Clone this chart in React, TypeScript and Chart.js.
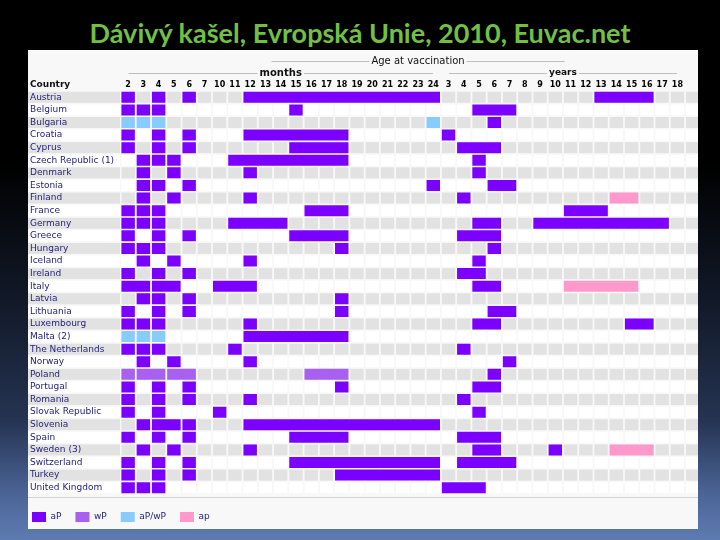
import React, { useEffect, useRef } from 'react';
import { Chart, registerables } from 'chart.js';
Chart.register(...registerables);

const title = 'Dávivý kašel, Evropská Unie, 2010, Euvac.net';

const countries = [
  'Austria', 'Belgium', 'Bulgaria', 'Croatia', 'Cyprus', 'Czech Republic (1)', 'Denmark', 'Estonia',
  'Finland', 'France', 'Germany', 'Greece', 'Hungary', 'Iceland', 'Ireland', 'Italy', 'Latvia',
  'Lithuania', 'Luxembourg', 'Malta (2)', 'The Netherlands', 'Norway', 'Poland', 'Portugal', 'Romania',
  'Slovak Republic', 'Slovenia', 'Spain', 'Sweden (3)', 'Switzerland', 'Turkey', 'United Kingdom',
];

const monthCols = ['2', '3', '4', '5', '6', '7', '10', '11', '12', '13', '14', '15', '16', '17', '18', '19', '20', '21', '22', '23', '24'];
const yearCols = ['3', '4', '5', '6', '7', '8', '9', '10', '11', '12', '13', '14', '15', '16', '17', '18'];
const colKeys = [...monthCols.map((m) => 'm' + m), ...yearCols.map((y) => 'y' + y), 'extra'];
const colLabels = [...monthCols, ...yearCols, ''];

// aP schedule, one list of spans per country (same order as countries)
const aPSpans: string[][] = [
  ['m2', 'm4', 'm6', 'm12-m24', 'y13-y16'],
  ['m2', 'm3', 'm4', 'm15', 'y5-y7'],
  ['y6'],
  ['m2', 'm4', 'm6', 'm12-m18', 'y3'],
  ['m2', 'm4', 'm6', 'm15-m18', 'y4-y6'],
  ['m3', 'm4', 'm5', 'm11-m18', 'y5'],
  ['m3', 'm5', 'm12', 'y5'],
  ['m3', 'm4', 'm6', 'm24', 'y6-y7'],
  ['m3', 'm5', 'm12', 'y4'],
  ['m2', 'm3', 'm4', 'm16-m18', 'y11-y13'],
  ['m2', 'm3', 'm4', 'm11-m14', 'y5-y6', 'y9-y17'],
  ['m2', 'm4', 'm6', 'm15-m18', 'y4-y6'],
  ['m2', 'm3', 'm4', 'm18', 'y6'],
  ['m3', 'm5', 'm12', 'y5'],
  ['m2', 'm4', 'm6', 'y4-y5'],
  ['m2-m3', 'm4-m5', 'm10-m12', 'y5-y6'],
  ['m3', 'm4', 'm6', 'm18'],
  ['m2', 'm4', 'm6', 'm18', 'y6-y7'],
  ['m2', 'm3', 'm4', 'm12', 'y5-y6', 'y15-y16'],
  ['m12-m18'],
  ['m2', 'm3', 'm4', 'm11', 'y4'],
  ['m3', 'm5', 'm12', 'y7'],
  ['y6'],
  ['m2', 'm4', 'm6', 'm18', 'y5-y6'],
  ['m2', 'm4', 'm6', 'm12', 'y4'],
  ['m2', 'm4', 'm10', 'y5'],
  ['m3', 'm4-m5', 'm6', 'm12-m24'],
  ['m2', 'm4', 'm6', 'm15-m18', 'y4-y6'],
  ['m3', 'm5', 'm12', 'y5-y6', 'y10'],
  ['m2', 'm4', 'm6', 'm15-m24', 'y4-y7'],
  ['m2', 'm4', 'm6', 'm18-m24'],
  ['m2', 'm3', 'm4', 'y3-y5'],
];

// sparse schedules: [country, spans]
const wPSpans: [string, string[]][] = [
  ['Poland', ['m2', 'm3-m4', 'm5-m6', 'm16-m18']],
];
const aPwPSpans: [string, string[]][] = [
  ['Bulgaria', ['m2', 'm3', 'm4', 'm24']],
  ['Malta (2)', ['m2', 'm3', 'm4']],
];
const apSpans: [string, string[]][] = [
  ['Finland', ['y14-y15']],
  ['Italy', ['y11-y15']],
  ['Sweden (3)', ['y14-y16']],
];

const legendLabels = ['aP', 'wP', 'aP/wP', 'ap'];
const colors = ['#7B00FF', '#A860F0', '#88CCFF', '#FF99CC'];

const INSET = 0.06;
const NAVY = '#23237A';

function expand(sparse: [string, string[]][]): string[][] {
  return countries.map((c) => {
    const f = sparse.find((s) => s[0] === c);
    return f ? f[1] : [];
  });
}

function spanRange(s: string): [number, number] {
  const [a, b] = s.split('-');
  return [colKeys.indexOf(a), colKeys.indexOf(b ?? a)];
}

function buildDatasets(label: string, color: string, perCountry: string[][]) {
  const n = Math.max(0, ...perCountry.map((s) => s.length));
  const out: any[] = [];
  for (let k = 0; k < n; k++) {
    out.push({
      label,
      backgroundColor: color,
      borderWidth: 0,
      grouped: false,
      barPercentage: 0.873,
      categoryPercentage: 1,
      data: perCountry.map((s) => {
        if (!s[k]) return null;
        const [a, b] = spanRange(s[k]);
        return [a - 0.5 + INSET, b + 0.5 - INSET];
      }),
    });
  }
  return out;
}

const gridPlugin = {
  id: 'gridPlugin',
  afterLayout(chart: any) {
    const lg = chart.legend;
    if (lg) {
      lg.left -= 12;
      lg.right -= 12;
    }
  },
  beforeDraw(chart: any) {
    const { ctx, chartArea, scales } = chart;
    const x = scales.x;
    const y = scales.y;
    const h = 11;
    ctx.save();
    const left0 = x.getPixelForValue(-0.5);
    for (let i = 0; i < countries.length; i++) {
      const yc = y.getPixelForValue(i);
      const top = yc - h / 2;
      const gray = i % 2 === 0;
      ctx.fillStyle = gray ? '#E2E2E2' : '#FFFFFF';
      ctx.fillRect(10, top, left0 - 10 - 0.5, h);
      for (let c = 0; c < colKeys.length; c++) {
        const x0 = x.getPixelForValue(c - 0.5 + INSET);
        const x1 = Math.min(x.getPixelForValue(c + 0.5 - INSET), chartArea.right);
        if (x1 > x0) ctx.fillRect(x0, top, x1 - x0, h);
      }
    }
    // separator under the grid
    ctx.strokeStyle = '#D4D4D4';
    ctx.lineWidth = 1;
    ctx.beginPath();
    ctx.moveTo(10, Math.round(chartArea.bottom + 3) + 0.5);
    ctx.lineTo(chartArea.right, Math.round(chartArea.bottom + 3) + 0.5);
    ctx.stroke();
    ctx.restore();
  },
  afterDraw(chart: any) {
    const { ctx, scales } = chart;
    const x = scales.x;
    ctx.save();
    ctx.textBaseline = 'middle';
    ctx.fillStyle = '#111111';
    ctx.font = 'bold 9px "DejaVu Sans"';
    ctx.textAlign = 'left';
    ctx.fillText('Country', 12, 35);

    const lineText = (text: string, font: string, cx: number, cy: number, l: number, r: number) => {
      ctx.font = font;
      ctx.textAlign = 'center';
      ctx.fillStyle = '#111111';
      ctx.fillText(text, cx, cy);
      const w = ctx.measureText(text).width;
      ctx.strokeStyle = '#BDBDBD';
      ctx.lineWidth = 1;
      const yy = Math.round(cy) + 0.5;
      ctx.beginPath();
      ctx.moveTo(l, yy);
      ctx.lineTo(cx - w / 2 - 2, yy);
      ctx.moveTo(cx + w / 2 + 2, yy);
      ctx.lineTo(r, yy);
      ctx.stroke();
    };
    const mL = x.getPixelForValue(-0.5);
    const mR = x.getPixelForValue(monthCols.length - 0.5);
    const yR = x.getPixelForValue(monthCols.length + yearCols.length - 0.5);
    lineText('Age at vaccination', '10px "DejaVu Sans"', x.getPixelForValue(19), 11, x.getPixelForValue(9.4), x.getPixelForValue(28.6));
    lineText('months', 'bold 10px "DejaVu Sans"', (mL + mR) / 2, 23, mL + 8, mR - 8);
    lineText('years', 'bold 9px "DejaVu Sans"', (mR + yR) / 2, 23, mR + 8, yR - 8);
    ctx.restore();
  },
};

export default function App() {
  const ref = useRef<HTMLCanvasElement>(null);
  useEffect(() => {
    const canvas = ref.current!;
    const datasets = [
      ...buildDatasets(legendLabels[0], colors[0], aPSpans),
      ...buildDatasets(legendLabels[1], colors[1], expand(wPSpans)),
      ...buildDatasets(legendLabels[2], colors[2], expand(aPwPSpans)),
      ...buildDatasets(legendLabels[3], colors[3], expand(apSpans)),
    ];
    const chart = new Chart(canvas, {
      type: 'bar',
      data: { labels: countries, datasets },
      options: {
        indexAxis: 'y',
        responsive: false,
        animation: false,
        devicePixelRatio: 1,
        layout: { padding: { left: 12, right: 0, top: 0, bottom: 0 } },
        scales: {
          x: {
            type: 'linear',
            position: 'top',
            min: -0.5,
            max: 37.35,
            grid: { display: false, drawTicks: false },
            border: { display: false },
            afterBuildTicks: (s: any) => {
              s.ticks = colLabels.map((_, i) => ({ value: i }));
            },
            afterFit: (s: any) => {
              s.height = 41;
            },
            ticks: {
              autoSkip: false,
              maxRotation: 0,
              minRotation: 0,
              padding: 1,
              color: '#000000',
              font: { family: 'DejaVu Sans', size: 8, weight: 'bold' },
              callback: (v: any) => colLabels[v] ?? '',
            },
          },
          y: {
            type: 'category',
            grid: { display: false, drawTicks: false },
            border: { display: false },
            afterFit: (s: any) => {
              s.width = 90.5;
            },
            ticks: {
              crossAlign: 'far',
              autoSkip: false,
              color: NAVY,
              font: { family: 'DejaVu Sans', size: 9 },
            },
          },
        },
        plugins: {
          legend: {
            position: 'bottom',
            align: 'start',
            title: { display: true, text: '', padding: 0, font: { size: 4, lineHeight: 1 } },
            labels: {
              boxWidth: 14,
              boxHeight: 10,
              padding: 14,
              color: NAVY,
              font: { family: 'DejaVu Sans', size: 9 },
              filter: (item: any, data: any) =>
                data.datasets.findIndex((d: any) => d.label === item.text) === item.datasetIndex,
            },
          },
          tooltip: { enabled: false },
        },
      } as any,
      plugins: [gridPlugin],
    });
    return () => chart.destroy();
  }, []);

  return (
    <div
      style={{
        position: 'fixed',
        left: 0,
        top: 0,
        width: 720,
        height: 540,
        overflow: 'hidden',
        background:
          'linear-gradient(to bottom, #000000 0%, #000000 30%, #111827 55%, #253452 78%, #4d6699 92%, #5d7bb0 100%)',
      }}
    >
      <div
        style={{
          position: 'absolute',
          top: 16.5,
          left: 0,
          width: 720,
          textAlign: 'center',
          fontFamily: 'Lato, "Open Sans", sans-serif',
          fontWeight: 700,
          fontSize: 27,
          lineHeight: '32px',
          color: '#72BF44',
          whiteSpace: 'nowrap',
        }}
      >
        {title}
      </div>
      <div style={{ position: 'absolute', left: 28, top: 50, width: 670, height: 479, background: '#F8F8F8' }} />
      <canvas
        ref={ref}
        width={680}
        height={482}
        style={{ position: 'absolute', left: 18, top: 50, width: 680, height: 482 }}
      />
    </div>
  );
}
